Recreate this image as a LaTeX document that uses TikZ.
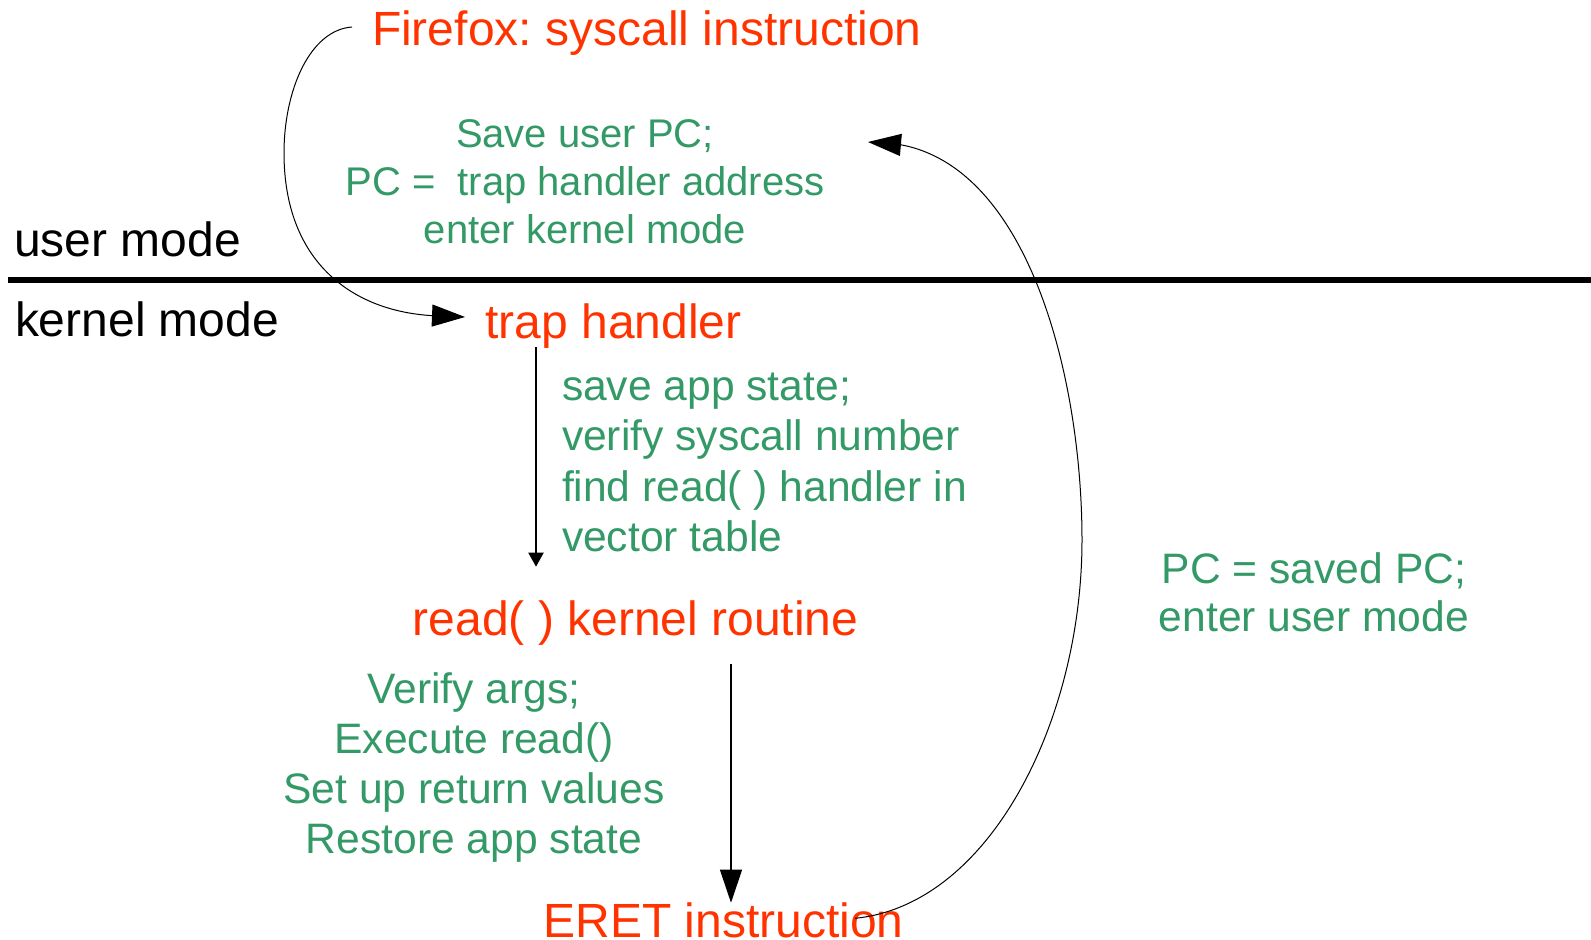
\documentclass[tikz,border=0pt]{standalone}
\usepackage{fontspec}
\setmainfont{Liberation Sans}
\usetikzlibrary{arrows.meta}
\definecolor{eventred}{HTML}{FF3300}
\definecolor{actiongreen}{HTML}{339966}
\frenchspacing

\begin{document}
\begin{tikzpicture}[x=1pt,y=-1pt,
  every node/.style={inner sep=0pt, outer sep=0pt},
  event/.style={text=eventred, font=\fontsize{48}{56}\selectfont},
  modelabel/.style={text=black, font=\fontsize{48}{56}\selectfont},
  action/.style={text=actiongreen, font=\fontsize{42.6}{50}\selectfont},
  smallaction/.style={text=actiongreen, font=\fontsize{40}{48}\selectfont},
  bigtip/.style={-{Triangle[length=33pt,width=22pt]}},
  curveflow/.style={line width=1pt, bigtip},
  stepflow/.style={line width=2pt, -{Triangle[length=14pt,width=15pt]}},
  lineflow/.style={line width=1.2pt, bigtip},
  divider/.style={line width=5.5pt}
]
\useasboundingbox (0,0) rectangle (1591,940);

% mode boundary
\coordinate (divL) at (8,280);
\coordinate (divR) at (1591,280);
\draw[divider] (divL) -- (divR);
\node[modelabel, anchor=base west] (usermode) at (14,256.7) {user mode};
\node[modelabel, anchor=base west] (kernelmode) at (15,336.7) {kernel mode};

% events
\node[event, anchor=base west] (firefox) at (372,45.7) {Firefox: syscall instruction};
\node[event, anchor=base west] (trap) at (485.5,338.3) {trap handler};
\node[event, anchor=base] (readk) at (635.5,635) {read( ) kernel routine};
\node[event, anchor=base west] (eret) at (543.5,937.3) {ERET instruction};

% hardware actions on the syscall
\node[smallaction, anchor=base] (sv1) at (585,147.7) {Save user PC;};
\node[smallaction, anchor=base] (sv2) at (585,195.3) {PC =\ \ trap handler address};
\node[smallaction, anchor=base] (sv3) at (585,243.1) {enter kernel mode};

% trap handler work
\node[action, anchor=base west] (th1) at (562,400) {save app state;};
\node[action, anchor=base west] (th2) at (562,450.5) {verify syscall number};
\node[action, anchor=base west] (th3) at (562,501) {find read( ) handler in};
\node[action, anchor=base west] (th4) at (562,551.5) {vector table};

% read() routine work
\node[action, anchor=base] (rd1) at (474,703.3) {Verify args;};
\node[action, anchor=base] (rd2) at (474,753.3) {Execute read()};
\node[action, anchor=base] (rd3) at (474,803.3) {Set up return values};
\node[action, anchor=base] (rd4) at (474,853.3) {Restore app state};

% return actions
\node[action, anchor=base] (rt1) at (1314,583.3) {PC = saved PC;};
\node[action, anchor=base] (rt2) at (1314,631.7) {enter user mode};

% connector end points
\coordinate (callstart) at (352,27);
\coordinate (trapin) at (465,317);
\coordinate (trapout) at (536,347);
\coordinate (readin) at (536,566.7);
\coordinate (readout) at (731,664);
\coordinate (eretin) at (731,902.7);
\coordinate (eretout) at (855,918.3);
\coordinate (userin) at (868,142);

% syscall into the trap handler
\draw[curveflow] (callstart) .. controls (310,30) and (284,90) .. (284,153)
  .. controls (284,260) and (350,310) .. (430,315.5) -- (trapin);

% trap handler to read()
\draw[stepflow] (trapout) -- (readin);

% read() to ERET
\draw[lineflow] (readout) -- (eretin);

% ERET back to user mode
\draw[curveflow] (eretout) .. controls (990,905) and (1082,720) .. (1082,540)
  .. controls (1082,380) and (1030,170) .. (902,145) -- (userin);
\end{tikzpicture}
\end{document}
